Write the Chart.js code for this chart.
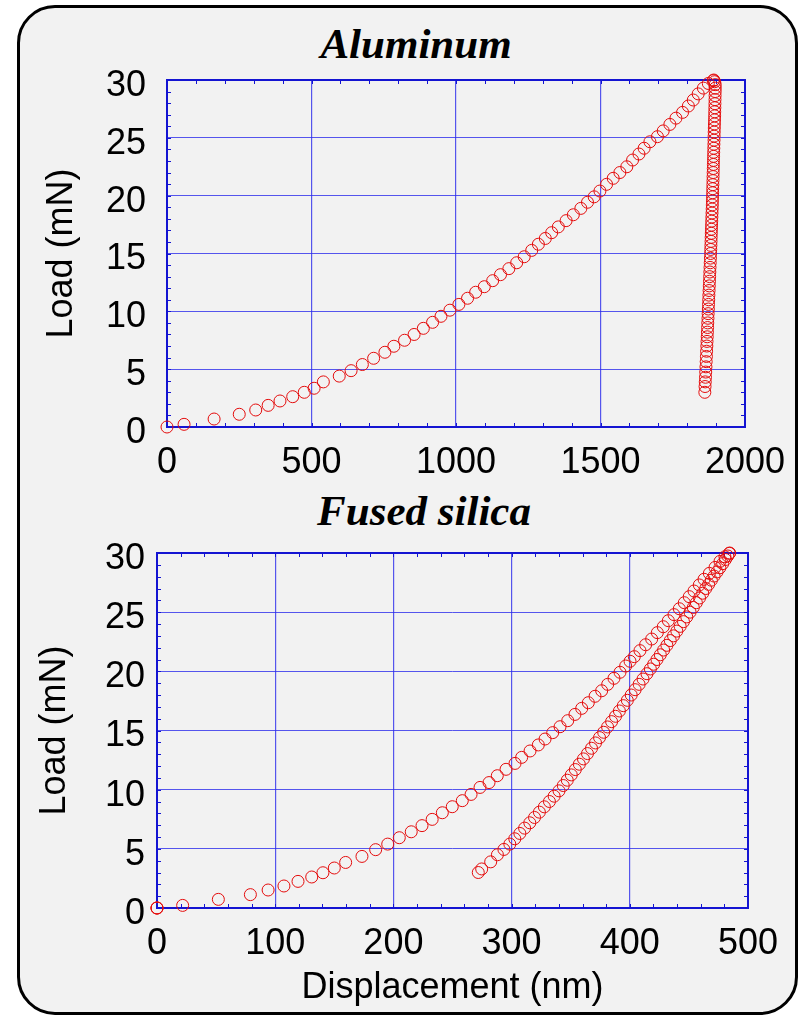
<!DOCTYPE html>
<html>
<head>
<meta charset="utf-8">
<script src="https://cdn.jsdelivr.net/npm/chart.js@4"></script>
<style>
  html, body { margin: 0; padding: 0; background: #fff; }
  #page { position: relative; width: 799px; height: 1016px; overflow: hidden; }
  #panel {
    position: absolute; left: 17px; top: 5px; width: 781px; height: 1010px;
    box-sizing: border-box; border: 3px solid #000; border-radius: 38px; background: #f2f2f2;
  }
  .ttl {
    position: absolute; font-family: "Liberation Serif", "Times New Roman", serif;
    font-weight: bold; font-style: italic; font-size: 43px; line-height: 43px;
    white-space: nowrap; transform: translateX(-50%); color: #000;
  }
  canvas { position: absolute; left: 0; }
</style>
</head>
<body>
<div id="page">
  <div id="panel"></div>
  <div class="ttl" style="left:416px; top:22px;">Aluminum</div>
  <div class="ttl" style="left:424px; top:489px;">Fused silica</div>
  <canvas id="alChart" width="799" height="495" style="top:0"></canvas>
  <canvas id="fsChart" width="799" height="521" style="top:495px"></canvas>
</div>
<script>
// Aluminum indentation: loading branch (displacement nm, load mN)
const alLoadDisp = [0,59,163,250,307,350,391,435,475,509,541,596,637,676,715,754,785,822,855,887,919,948,979,1010,1040,1068,1098,1127,1154,1183,1210,1236,1262,1285,1309,1331,1354,1381,1406,1432,1455,1478,1498,1521,1544,1567,1591,1611,1633,1651,1671,1697,1717,1740,1761,1784,1804,1821,1838,1856,1873,1890];
const alLoadForce = [0,0.23,0.69,1.1,1.47,1.87,2.25,2.62,3.0,3.35,3.9,4.4,4.87,5.4,5.94,6.46,6.98,7.5,8.0,8.53,9.05,9.57,10.1,10.6,11.13,11.65,12.13,12.65,13.17,13.69,14.2,14.72,15.27,15.8,16.3,16.8,17.3,17.84,18.35,18.9,19.43,19.9,20.4,20.98,21.5,22.0,22.5,23.08,23.6,24.1,24.66,25.1,25.6,26.16,26.7,27.2,27.75,28.27,28.8,29.3,29.7,29.95];
// Aluminum unloading branch
const alUnloadDisp = [1892,1895,1897,1897,1896.8,1896.5,1896.2,1896,1895.7,1895.3,1895,1894.6,1894.2,1893.8,1893.4,1893.1,1892.8,1892.4,1892.1,1891.7,1891.3,1891.0,1890.6,1890.3,1889.9,1889.5,1889.2,1888.8,1888.4,1888.1,1887.7,1887.3,1886.9,1886.4,1885.9,1885.4,1884.9,1884.4,1883.9,1883.4,1882.9,1882.5,1882.0,1881.5,1881,1880.3,1879.7,1879.0,1878.4,1877.7,1877.1,1876.4,1875.8,1875.1,1874.5,1873.8,1873.2,1872.5,1871.9,1871.2,1870.6,1869.9,1869.3,1868.6,1868.0,1867.2,1866.5,1865.7,1864.9,1864.1,1863.3,1862.5,1861.8,1861];
const alUnloadForce = [30.0,29.85,29.6,29.3,29.0,28.65,28.3,27.95,27.6,27.25,26.9,26.55,26.2,25.85,25.5,25.15,24.8,24.45,24.1,23.75,23.4,23.05,22.7,22.35,22.0,21.65,21.3,20.95,20.6,20.25,19.9,19.55,19.2,18.85,18.5,18.15,17.8,17.45,17.1,16.75,16.4,16.05,15.7,15.35,15.0,14.6,14.2,13.8,13.4,13.0,12.6,12.2,11.8,11.4,11.0,10.6,10.2,9.8,9.4,9.0,8.6,8.2,7.8,7.4,7.0,6.55,6.1,5.65,5.2,4.75,4.3,3.9,3.5,3.0];

// Fused silica indentation: loading branch
const fsLoadDisp = [0,0,0,21.7,51.9,79,94,107.4,119.3,130.9,140.4,150,159.6,173.4,185,195.2,205,215.1,224.2,232.8,241.4,249.8,258.3,265.7,273.3,280.9,287.9,295.3,302.9,308.5,315.6,322.6,328.3,334.8,341,347.5,353.6,359.3,364.9,370.6,376.2,381.3,386.6,391.7,396.5,400.2,403.8,408.6,413.4,418.5,423.3,428.3,432.6,437.4,441.9,446.1,450.3,454.3,458.8,462.8,467.3,472.1,476.3,480.5,484.2];
const fsLoadForce = [0,0,0,0.22,0.73,1.13,1.52,1.86,2.25,2.62,2.98,3.38,3.85,4.36,4.93,5.4,5.94,6.44,6.96,7.49,8.05,8.56,9.07,9.6,10.19,10.6,11.18,11.72,12.22,12.73,13.27,13.78,14.28,14.82,15.32,15.83,16.36,16.87,17.35,17.89,18.36,18.9,19.41,19.92,20.45,20.85,21.24,21.75,22.25,22.73,23.27,23.77,24.28,24.79,25.29,25.8,26.31,26.79,27.3,27.78,28.28,28.78,29.29,29.68,29.97];
// Fused silica unloading branch
const fsUnloadDisp = [484.5,482.9,480.9,478.6,476.2,473.8,471.3,469.0,466.7,464.3,461.7,459.0,456.3,453.7,451.0,448.2,445.4,442.6,439.8,437.0,434.2,431.4,428.6,425.8,423.0,420.2,417.4,414.5,411.2,407.9,404.5,401.2,397.9,394.5,391.2,387.9,384.6,381.2,377.9,374.4,371.0,367.6,364.2,360.8,357.3,353.9,350.5,347.1,343.7,340.1,336,332,327.7,323.5,319.4,315.4,311,307,302.7,298.5,293.5,288,282.3,274.7,271.8];
const fsUnloadForce = [30.0,29.75,29.45,29.1,28.75,28.4,28.05,27.7,27.35,27.0,26.6,26.2,25.8,25.4,25.0,24.6,24.2,23.8,23.4,23.0,22.6,22.2,21.8,21.4,21.0,20.6,20.2,19.8,19.35,18.9,18.45,18.0,17.55,17.1,16.65,16.2,15.75,15.3,14.85,14.4,13.95,13.5,13.05,12.6,12.15,11.7,11.25,10.8,10.35,9.9,9.45,9.0,8.55,8.1,7.65,7.2,6.75,6.3,5.85,5.4,4.95,4.5,3.9,3.3,3.0];

// Axis ticks
const alDispTicks = [0, 500, 1000, 1500, 2000];
const fsDispTicks = [0, 100, 200, 300, 400, 500];
const loadTicks = [0, 5, 10, 15, 20, 25, 30];

const BLUE_GRID = 'rgba(45,45,235,0.8)';
const BLUE_AXIS = '#1414d2';
const RED = 'rgb(228,12,12)';
const SANS = '"Liberation Sans", Arial, sans-serif';

const zip = (xs, ys) => xs.map((x, i) => ({ x, y: ys[i] }));

// Blue plot frame plus small inward ticks on all four sides
const plotFrame = {
  id: 'plotFrame',
  beforeDatasetsDraw(chart, args, opts) {
    const { ctx, chartArea: a, scales: { x, y } } = chart;
    ctx.save();
    ctx.strokeStyle = BLUE_AXIS;
    ctx.lineWidth = 1;
    ctx.beginPath();
    for (let v = x.min; v <= x.max + 1e-9; v += opts.xStep) {
      const px = Math.round(x.getPixelForValue(v)) + 0.5;
      ctx.moveTo(px, a.bottom); ctx.lineTo(px, a.bottom - opts.len);
      ctx.moveTo(px, a.top); ctx.lineTo(px, a.top + opts.len);
    }
    for (let v = y.min; v <= y.max + 1e-9; v += opts.yStep) {
      const py = Math.round(y.getPixelForValue(v)) + 0.5;
      ctx.moveTo(a.left, py); ctx.lineTo(a.left + opts.len, py);
      ctx.moveTo(a.right, py); ctx.lineTo(a.right - opts.len, py);
    }
    ctx.stroke();
    ctx.lineWidth = 2;
    ctx.strokeRect(a.left, a.top, a.right - a.left, a.bottom - a.top);
    ctx.restore();
  }
};

function series(xs, ys) {
  return {
    data: zip(xs, ys),
    showLine: false,
    pointStyle: 'circle',
    pointRadius: 6,
    pointBorderWidth: 1,
    pointBorderColor: RED,
    pointBackgroundColor: 'rgba(0,0,0,0)',
    clip: false
  };
}

function build(canvasId, sets, o) {
  return new Chart(document.getElementById(canvasId), {
    type: 'scatter',
    data: { datasets: sets },
    options: {
      responsive: false,
      animation: false,
      events: [],
      layout: { padding: o.padding },
      plugins: {
        legend: { display: false },
        tooltip: { enabled: false },
        plotFrame: { xStep: o.xMinor, yStep: 1, len: 4 }
      },
      scales: {
        x: {
          type: 'linear', min: o.xTicks[0], max: o.xTicks[o.xTicks.length - 1],
          afterBuildTicks: s => { s.ticks = o.xTicks.map(v => ({ value: v })); },
          afterFit: s => { s.height = o.xHeight; s.paddingLeft = 0; s.paddingRight = 0; },
          grid: { color: BLUE_GRID, lineWidth: 1.2, drawTicks: false },
          border: { display: false },
          ticks: {
            color: '#000', font: { family: SANS, size: 36 }, padding: o.xPad,
            maxRotation: 0, autoSkip: false, callback: v => String(v)
          },
          title: {
            display: !!o.xTitle, text: o.xTitle || '', color: '#000',
            font: { family: SANS, size: 36 }, padding: { top: 0, bottom: o.xTitlePad || 0 }
          }
        },
        y: {
          type: 'linear', min: 0, max: 30,
          afterBuildTicks: s => { s.ticks = loadTicks.map(v => ({ value: v })); },
          afterFit: s => { s.width = o.yWidth; s.paddingTop = 0; s.paddingBottom = 0; },
          grid: { color: BLUE_GRID, lineWidth: 1, drawTicks: false },
          border: { display: false },
          ticks: {
            color: '#000', font: { family: SANS, size: 36 }, padding: o.yPad,
            labelOffset: 6, autoSkip: false, callback: v => String(v)
          },
          title: {
            display: true, text: 'Load (mN)', color: '#000',
            font: { family: SANS, size: 36 }, padding: { top: 2, bottom: 0 }
          }
        }
      }
    },
    plugins: [plotFrame]
  });
}

build('alChart', [series(alLoadDisp, alLoadForce), series(alUnloadDisp, alUnloadForce)], {
  padding: { left: 38, right: 54, top: 80, bottom: 0 },
  yWidth: 129, yPad: 21, xHeight: 68, xPad: 14,
  xTicks: alDispTicks, xMinor: 100
});

build('fsChart', [series(fsLoadDisp, fsLoadForce), series(fsUnloadDisp, fsUnloadForce)], {
  padding: { left: 31, right: 51, top: 58, bottom: 0 },
  yWidth: 126, yPad: 12, xHeight: 108, xPad: 14,
  xTicks: fsDispTicks, xMinor: 20,
  xTitle: 'Displacement (nm)', xTitlePad: 6
});
</script>
</body>
</html>
